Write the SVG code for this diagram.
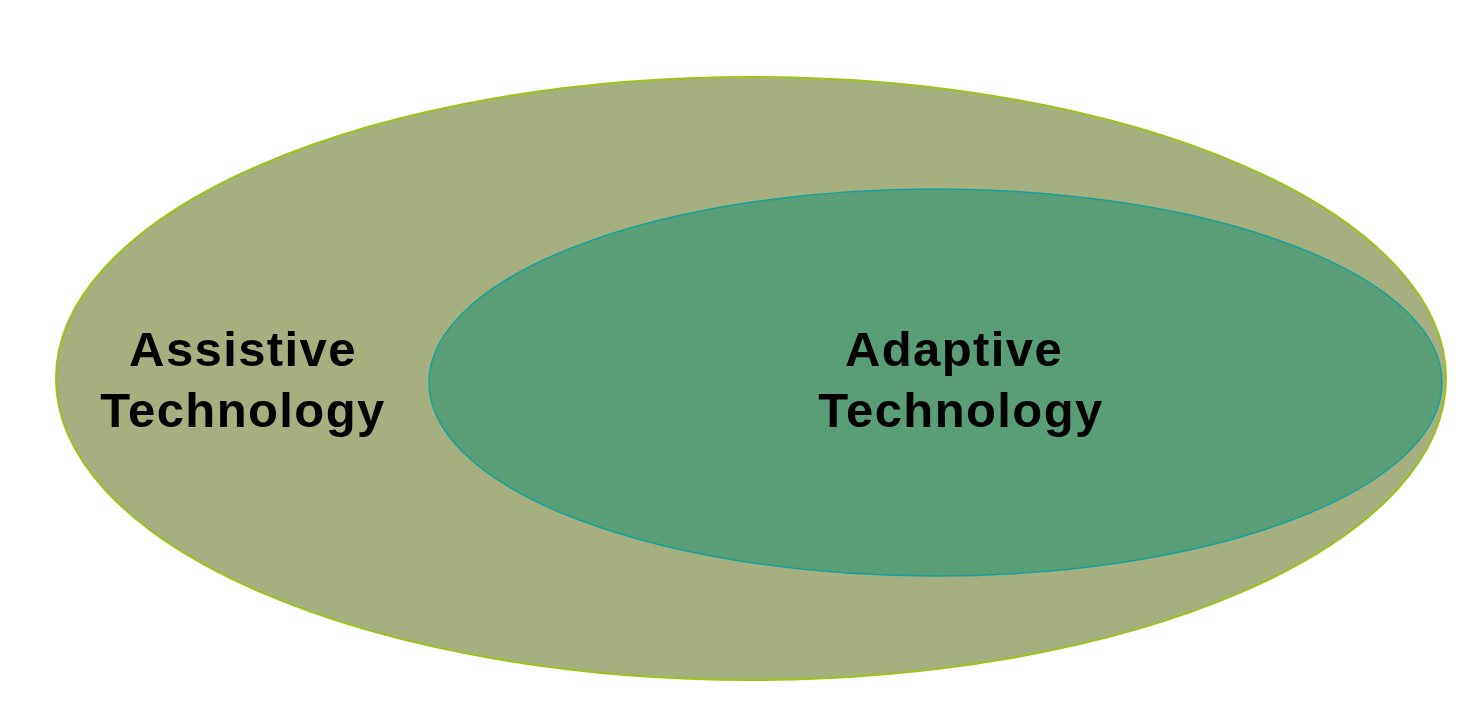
<svg xmlns="http://www.w3.org/2000/svg" width="1482" height="723" viewBox="0 0 1482 723">
<style>
.lbl{font-family:"Liberation Sans",Arial,sans-serif;font-weight:bold;font-size:49px;letter-spacing:1.4px;fill:#000;text-anchor:middle}
</style>
<rect width="1482" height="723" fill="#fff"/>
<g id="assistive">
<ellipse cx="751" cy="378.5" rx="695" ry="301.5" fill="#A5AF7F" stroke="#9BC31A" stroke-width="2"/>
<text class="lbl" x="243" y="366">Assistive</text>
<text class="lbl" x="243" y="427">Technology</text>
</g>
<g id="adaptive">
<ellipse cx="935.5" cy="382.5" rx="506.5" ry="193.5" fill="#5A9E77" stroke="#17A09A" stroke-width="1.5"/>
<text class="lbl" x="954" y="366">Adaptive</text>
<text class="lbl" x="961" y="427">Technology</text>
</g>
<g id="connectors"/>
</svg>
